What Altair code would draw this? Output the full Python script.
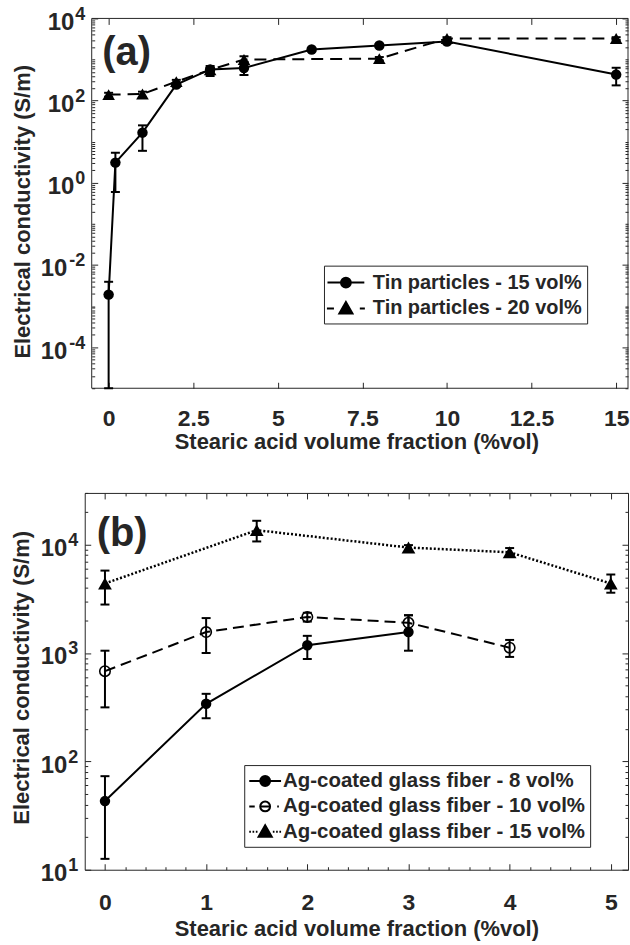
import altair as alt
import pandas as pd

FONT = "Liberation Sans"
INK = "#262626"

# ---------------- (a) tin particles ----------------
a_series = ["Tin particles - 15 vol%", "Tin particles - 20 vol%"]

tin15_x = [0, 0.2, 1, 2, 3, 4, 6, 8, 10, 15]
tin15_y = [0.0019, 3.1, 16.6, 245, 575, 620, 1750, 2200, 2750, 430]
tin15_lo = [1e-5, 0.6, 6, 220, 400, 420, 1600, 2000, 2500, 235]
tin15_hi = [0.0039, 5.4, 25, 270, 700, 880, 1900, 2400, 3000, 630]

tin20_x = [0, 1, 2, 3, 4, 8, 10, 15]
tin20_y = [140, 145, 290, 560, 1000, 1050, 3250, 3250]
tin20_lo = [125, 118, 260, 500, 850, 950, 3000, 3000]
tin20_hi = [155, 165, 320, 620, 1200, 1150, 3500, 3500]

a_xlim = [-0.5, 15.35]
a_xticks = [0, 2.5, 5, 7.5, 10, 12.5, 15]
a_ylabels = [1e-4, 1e-2, 1, 1e2, 1e4]

# ---------------- (b) Ag-coated glass fiber ----------------
b_series = [
    "Ag-coated glass fiber - 8 vol%",
    "Ag-coated glass fiber - 10 vol%",
    "Ag-coated glass fiber - 15 vol%",
]

ag8_x = [0, 1, 2, 3]
ag8_y = [43, 340, 1180, 1560]
ag8_lo = [12.6, 250, 880, 1050]
ag8_hi = [73, 420, 1440, 2230]

ag10_x = [0, 1, 2, 3, 4]
ag10_y = [680, 1560, 2150, 1900, 1120]
ag10_lo = [315, 1000, 1950, 1620, 920]
ag10_hi = [1050, 2100, 2350, 2230, 1320]

ag15_x = [0, 1.5, 3, 4, 5]
ag15_y = [4380, 13600, 9400, 8500, 4380]
ag15_lo = [2800, 10700, 8900, 7800, 3600]
ag15_hi = [5760, 16600, 9900, 9300, 5300]

b_xticks = [0, 1, 2, 3, 4, 5]
b_xminor = [round(0.2 * i, 1) for i in range(1, 26) if i % 5]
b_ylabels = [10, 100, 1000, 10000]

EXP = "round(log(datum.value)/LN10)"
EXP_LABEL = f"({EXP} < 0 ? '-' : '') + toString(abs({EXP}))"


def log_ticks(lo_exp, hi_exp, upper, skip):
    vals = []
    for e in range(lo_exp, hi_exp + 1):
        for k in range(1, 10):
            v = float(f"{k}e{e}")
            if v <= upper and v not in skip:
                vals.append(v)
    return vals


def frame(x, y, lo, hi):
    return pd.DataFrame({"x": x, "y": y, "lo": lo, "hi": hi})


def series(df, xsc, ysc, shape, filled, size, lw, dash=None):
    base = alt.Chart(df)
    X = alt.X("x:Q", scale=xsc, axis=None)
    line_kw = dict(color="black", strokeWidth=lw)
    if dash:
        line_kw["strokeDash"] = dash
    line = base.mark_line(**line_kw).encode(
        x=X, y=alt.Y("y:Q", scale=ysc, axis=None))
    bar = base.mark_rule(color="black", strokeWidth=2).encode(
        x=X, y=alt.Y("lo:Q", scale=ysc, axis=None), y2="hi:Q")
    cap_lo = base.mark_tick(orient="horizontal", size=9, thickness=2,
                            color="black", opacity=1).encode(
        x=X, y=alt.Y("lo:Q", scale=ysc, axis=None))
    cap_hi = base.mark_tick(orient="horizontal", size=9, thickness=2,
                            color="black", opacity=1).encode(
        x=X, y=alt.Y("hi:Q", scale=ysc, axis=None))
    pts = base.mark_point(shape=shape, filled=filled, size=size,
                          color="black", strokeWidth=1.6, opacity=1).encode(
        x=X, y=alt.Y("y:Q", scale=ysc, axis=None))
    return [line, bar, cap_lo, cap_hi, pts]


def tick_axis(orient, values, size, offset):
    return alt.Axis(orient=orient, values=values, labels=False, ticks=True,
                    tickSize=size, offset=offset, title=None, domain=False,
                    grid=False, tickColor=INK, tickWidth=1)


TEXT_STYLE = dict(labelFont=FONT, labelFontWeight="bold", labelColor=INK,
                  titleFont=FONT, titleFontWeight="bold", titleColor=INK,
                  titleFontSize=22, grid=False, domain=False, ticks=False,
                  tickSize=0, labelFlush=False, labelOverlap=False)


def frame_axes(xsc, ysc, W, H, xlab, xminor, ylab, yminor,
               xlabpad, xtitlepad, ytitlepad, ytitle_y, inset=0):
    """Labels, title and inward ticks; `inset` moves the left edge inwards."""
    dummy = alt.Chart(pd.DataFrame({"x": [0.0], "y": [1.0]})) \
        .transform_filter("false").mark_point(opacity=0)
    no_x = alt.X("x:Q", scale=xsc, axis=None)
    Y_TITLE = "Electrical conductivity (S/m)"
    layers = []
    # x labels/title and the superscript exponents of the y labels
    layers.append(dummy.encode(
        x=alt.X("x:Q", scale=xsc, axis=alt.Axis(
            orient="bottom", values=xlab, format=".3~g", labelFontSize=23,
            title="Stearic acid volume fraction (%vol)",
            labelPadding=xlabpad, titlePadding=xtitlepad, **TEXT_STYLE)),
        y=alt.Y("y:Q", scale=ysc, axis=alt.Axis(
            orient="left", values=ylab, labelExpr=EXP_LABEL, offset=-inset,
            labelFontSize=18, labelOffset=-4, labelPadding=7,
            title=None, **TEXT_STYLE))))
    # the "10" bases, padded past their exponents
    pos = [v for v in ylab if v >= 1]
    neg = [v for v in ylab if v < 1]
    groups = [(pos, 18)] + ([(neg, 25)] if neg else [])
    for i, (vals, pad) in enumerate(groups):
        kw = dict(title=Y_TITLE, titlePadding=ytitlepad, titleY=ytitle_y) \
            if i == len(groups) - 1 else dict(title=None)
        layers.append(dummy.encode(x=no_x, y=alt.Y("y:Q", scale=ysc, axis=alt.Axis(
            orient="left", values=vals, labelExpr="'10'", labelFontSize=24,
            offset=-inset, labelOffset=4, labelPadding=pad, **kw,
            **TEXT_STYLE))))
    # inward major ticks on all four edges
    layers.append(dummy.encode(
        x=alt.X("x:Q", scale=xsc, axis=tick_axis("top", xlab, 6, -H)),
        y=alt.Y("y:Q", scale=ysc, axis=tick_axis("right", ylab, 6, inset - W))))
    layers.append(dummy.encode(
        x=alt.X("x:Q", scale=xsc, axis=tick_axis("bottom", xlab, 6, -H)),
        y=alt.Y("y:Q", scale=ysc, axis=tick_axis("left", ylab, 6, -W))))
    # inward minor ticks
    xm_low = tick_axis("top", xminor, 3, -H) if xminor else None
    xm_high = tick_axis("bottom", xminor, 3, -H) if xminor else None
    layers.append(dummy.encode(
        x=alt.X("x:Q", scale=xsc, axis=xm_low),
        y=alt.Y("y:Q", scale=ysc,
                axis=tick_axis("right", yminor, 3, inset - W))))
    layers.append(dummy.encode(
        x=alt.X("x:Q", scale=xsc, axis=xm_high),
        y=alt.Y("y:Q", scale=ysc, axis=tick_axis("left", yminor, 3, -W))))
    return layers


def box_lines(xsc, lo, hi, H):
    """Plot frame drawn between two x limits."""
    df = pd.DataFrame({"x0": [lo], "x1": [hi]})
    base = alt.Chart(df).mark_rule(color=INK, strokeWidth=1)
    return [
        base.encode(x=alt.X("x0:Q", scale=xsc, axis=None), x2="x1:Q",
                    y=alt.value(0)),
        base.encode(x=alt.X("x0:Q", scale=xsc, axis=None), x2="x1:Q",
                    y=alt.value(H)),
        base.encode(x=alt.X("x0:Q", scale=xsc, axis=None),
                    y=alt.value(0), y2=alt.value(H)),
        base.encode(x=alt.X("x1:Q", scale=xsc, axis=None),
                    y=alt.value(0), y2=alt.value(H)),
    ]


def panel_tag(text, px, py):
    return alt.Chart(pd.DataFrame({"t": [text]})).mark_text(
        font=FONT, fontSize=40, fontWeight="bold", color=INK,
        align="center", baseline="middle").encode(
        text="t:N", x=alt.value(px), y=alt.value(py))


def legend_layer(field, names, paths, fills, lx, ly, pad, sym_off, lab_off,
                 row_pad, tail, fs):
    df = pd.DataFrame({field: names})
    leg = alt.Legend(
        title=None, orient="none", legendX=lx, legendY=ly,
        fillColor="white", strokeColor=INK, padding=pad, cornerRadius=0,
        labelFont=FONT, labelFontWeight="bold", labelFontSize=fs,
        labelColor=INK, labelOffset=lab_off, labelLimit=0,
        labelExpr="datum.label + '" + "\u00a0" * tail + "'",
        symbolSize=484, symbolStrokeWidth=2, symbolStrokeColor="black",
        symbolFillColor="black", symbolOpacity=1, symbolOffset=sym_off,
        rowPadding=row_pad)
    enc = dict(
        shape=alt.Shape(f"{field}:N", scale=alt.Scale(domain=names, range=paths),
                        legend=leg),
        fill=alt.Fill(f"{field}:N", scale=alt.Scale(domain=names, range=fills),
                      legend=leg),
    )
    return alt.Chart(df).transform_filter("false").mark_point(
        opacity=1, stroke="black", strokeWidth=2).encode(**enc)


CIRC = "M{r},0A{r},{r},0,1,1,-{r},0A{r},{r},0,1,1,{r},0Z"
TRI = "M0,-0.6L0.6,0.45L-0.6,0.45Z"

# ---------------- panel (a) ----------------
INSET = 7                    # panel (a) frame starts a little right of (b)'s
WA, HA = 538 + INSET, 371
a_px = (a_xlim[1] - a_xlim[0]) / (WA - INSET)
xa = alt.Scale(domain=[a_xlim[0] - INSET * a_px, a_xlim[1]], nice=False,
               zero=False)
ya = alt.Scale(type="log", domain=[1e-5, 1e4], nice=False)
a_yminor = log_ticks(-5, 3, 1e4, a_ylabels)

a_paths = [
    "M-1.68,0H1.68" + CIRC.format(r=0.45),
    "M-1.73,0H-1.09M1.27,0H1.73" + TRI,
]

layers_a = frame_axes(xa, ya, WA, HA, a_xticks, [], a_ylabels, a_yminor,
                      xlabpad=19, xtitlepad=1, ytitlepad=6,
                      ytitle_y=HA / 2 + 8, inset=INSET)
layers_a += box_lines(xa, a_xlim[0], a_xlim[1], HA)
layers_a += series(frame(tin20_x, tin20_y, tin20_lo, tin20_hi), xa, ya,
                   "triangle-up", True, 160, 2, dash=[12, 7])
layers_a += series(frame(tin15_x, tin15_y, tin15_lo, tin15_hi), xa, ya,
                   "circle", True, 110, 2)
layers_a.append(legend_layer("tin", a_series, a_paths, ["black", "black"],
                             240, 248, pad=5, sym_off=5, lab_off=15,
                             row_pad=4, tail=12, fs=20))
layers_a.append(panel_tag("(a)", 42, 35))

panel_a = alt.layer(*layers_a).resolve_axis(
    x="independent", y="independent").properties(
    width=WA, height=HA, view=alt.ViewBackground(stroke="transparent"))

# ---------------- panel (b) ----------------
WB, HB = 545, 378
xb = alt.Scale(domain=[-0.2, 5.17], nice=False, zero=False)
yb = alt.Scale(type="log", domain=[10, 30000], nice=False)
b_yminor = log_ticks(1, 4, 30000, b_ylabels)

b_paths = [
    "M-1.45,0H1.45" + CIRC.format(r=0.45),
    "M-1.45,0H-0.95M-0.45,0H0.45M1.1,0H1.25" + CIRC.format(r=0.45),
    "M-1.45,0H-1.3M-1.15,0H-1.0M-0.85,0H-0.7M0.7,0H0.85M1.0,0H1.15M1.3,0H1.45"
    + TRI,
]

layers_b = frame_axes(xb, yb, WB, HB, b_xticks, b_xminor, b_ylabels, b_yminor,
                      xlabpad=22, xtitlepad=4, ytitlepad=7,
                      ytitle_y=HB / 2 - 4)
layers_b += series(frame(ag15_x, ag15_y, ag15_lo, ag15_hi), xb, yb,
                   "triangle-up", True, 190, 2.5, dash=[2, 2])
layers_b += series(frame(ag10_x, ag10_y, ag10_lo, ag10_hi), xb, yb,
                   "circle", False, 110, 2, dash=[11, 6])
layers_b += series(frame(ag8_x, ag8_y, ag8_lo, ag8_hi), xb, yb,
                   "circle", True, 110, 2)
layers_b.append(legend_layer("ag", b_series, b_paths,
                             ["black", "white", "black"],
                             160, 273, pad=4, sym_off=5, lab_off=6,
                             row_pad=2.5, tail=0, fs=20.5))
layers_b.append(panel_tag("(b)", 37.5, 41))

panel_b = alt.layer(*layers_b).resolve_axis(
    x="independent", y="independent").properties(width=WB, height=HB)

chart = alt.vconcat(panel_a, panel_b, spacing=39) \
    .resolve_scale(x="independent", y="independent",
                   shape="independent", fill="independent") \
    .properties(padding={"left": 9, "top": 3, "right": 0, "bottom": 0},
                background="white") \
    .configure_view(stroke=INK, strokeWidth=1).configure_axis(grid=False)

chart.save("out.html", embed_options={"renderer": "svg", "actions": False})
